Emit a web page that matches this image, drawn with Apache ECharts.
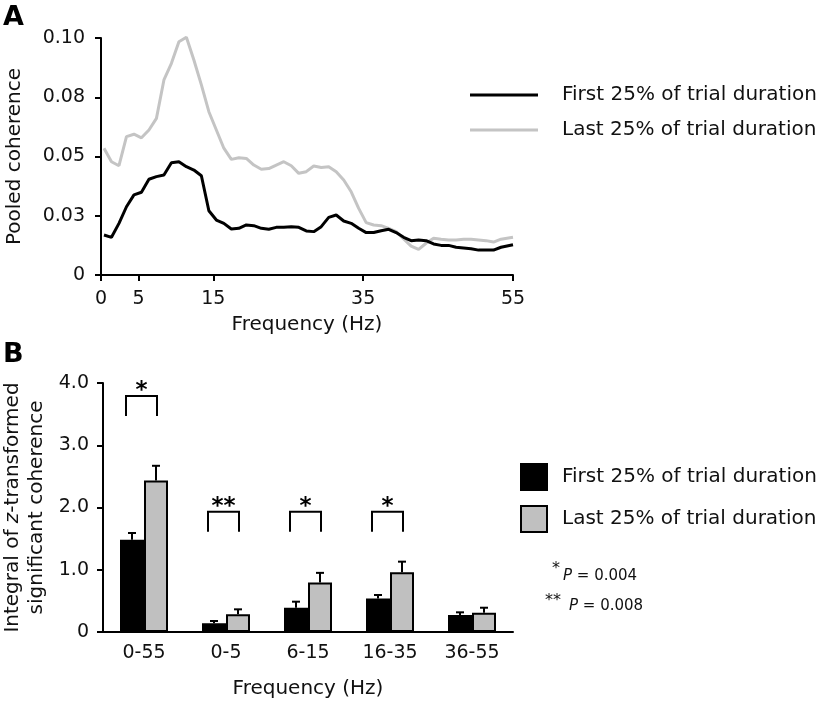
<!DOCTYPE html>
<html>
<head>
<meta charset="utf-8">
<script src="https://cdn.jsdelivr.net/npm/echarts@6/dist/echarts.min.js"></script>
<style>
html,body{margin:0;padding:0;background:#fff;}
#chart{width:827px;height:701px;}
</style>
</head>
<body>
<div id="chart"></div>
<script>
// ---------- Panel A data ----------
const aFreq = [0.4,1.4,2.4,3.4,4.4,5.4,6.4,7.4,8.4,9.4,10.4,11.4,12.4,13.4,14.4,15.4,16.4,17.4,18.4,19.4,
  20.4,21.4,22.4,23.4,24.4,25.4,26.4,27.4,28.4,29.4,30.4,31.4,32.4,33.4,34.4,35.4,36.4,37.4,38.4,39.4,
  40.4,41.4,42.4,43.4,44.4,45.4,46.4,47.4,48.4,49.4,50.4,51.4,52.4,53.4,55.0];
const aFirst = [0.0169,0.0159,0.0218,0.0288,0.0338,0.0349,0.0404,0.0415,0.0422,0.0474,
  0.0478,0.0457,0.0443,0.0419,0.0271,0.0232,0.0218,0.0194,0.0197,0.0211,
  0.0208,0.0197,0.0193,0.0201,0.0201,0.0204,0.0201,0.0186,0.0183,0.0204,
  0.0243,0.0253,0.0228,0.0218,0.0197,0.0179,0.0179,0.0187,0.0193,0.0179,
  0.0159,0.0145,0.0148,0.0145,0.0131,0.0125,0.0125,0.0117,0.0114,0.0111,
  0.0105,0.0105,0.0105,0.0117,0.0128];
const aLast = [0.0535,0.0478,0.0461,0.0584,0.0594,0.0579,0.0612,0.0661,0.0823,0.0893,
  0.0984,0.1003,0.0907,0.0802,0.0689,0.0612,0.0535,0.0488,0.0495,0.0492,
  0.0464,0.0446,0.0449,0.0464,0.0478,0.0461,0.0429,0.0436,0.0460,0.0454,
  0.0457,0.0436,0.0401,0.0351,0.0281,0.0221,0.0211,0.0208,0.0197,0.0183,
  0.0152,0.0122,0.0108,0.0134,0.0155,0.0151,0.0148,0.0148,0.0151,0.0151,
  0.0148,0.0145,0.0139,0.0151,0.0159];
const aXTicks = [0, 5, 15, 35, 55];
const aYTickLabels = ['0', '0.03', '0.05', '0.08', '0.10'];

// ---------- Panel B data ----------
const bCats = ['0-55', '0-5', '6-15', '16-35', '36-55'];
const bFirst = [1.48, 0.14, 0.39, 0.54, 0.273];
const bFirstErr = [0.11, 0.037, 0.097, 0.054, 0.043];
const bLast = [2.435, 0.284, 0.797, 0.958, 0.31];
const bLastErr = [0.235, 0.08, 0.153, 0.172, 0.08];
const bSigCats = [0, 1, 2, 3];
const bSigStars = ['*', '**', '*', '*'];
const bSigTop = [3.79, 1.93, 1.93, 1.93];
const bSigBottom = [3.47, 1.61, 1.61, 1.61];
const bYTicks = [0, 1, 2, 3, 4];

const seriesNames = ['First 25% of trial duration', 'Last 25% of trial duration'];

const FONT = 'DejaVu Sans';
const BAR_W = 24;
const TXT = '#111';

const chart = echarts.init(document.getElementById('chart'), null, {renderer: 'canvas'});

function errRender(sign) {
  return function (params, api) {
    const i = api.value(0), v = api.value(1), e = api.value(2);
    const base = api.coord([i, v]);
    const top = api.coord([i, v + e]);
    const x = base[0] + sign * BAR_W / 2;
    return {
      type: 'group',
      children: [
        {type: 'line', shape: {x1: x, y1: base[1], x2: x, y2: top[1]}, style: {stroke: '#000', lineWidth: 2}},
        {type: 'line', shape: {x1: x - 4, y1: top[1], x2: x + 4, y2: top[1]}, style: {stroke: '#000', lineWidth: 2}}
      ]
    };
  };
}

function sigRender(params, api) {
  const i = api.value(0);
  const t = api.coord([i, api.value(1)]);
  const b = api.coord([i, api.value(2)]);
  const x1 = t[0] - 18, x2 = t[0] + 13;
  return {
    type: 'group',
    children: [
      {type: 'polyline', shape: {points: [[x1, b[1]], [x1, t[1]], [x2, t[1]], [x2, b[1]]]},
        style: {stroke: '#000', lineWidth: 2, fill: null}},
      {type: 'text', style: {text: bSigStars[params.dataIndex], x: (x1 + x2) / 2, y: t[1] - 5,
        align: 'center', verticalAlign: 'middle', font: 'bold 23px "' + FONT + '"', fill: '#000'}}
    ]
  };
}

const axisLineStyle = {lineStyle: {color: '#000', width: 2}};
const tickStyle = {lineStyle: {color: '#000', width: 2}, length: 6, inside: false};

const option = {
  backgroundColor: '#fff',
  animation: false,
  textStyle: {fontFamily: FONT},
  grid: [
    {left: 101, top: 38, width: 412, height: 237},
    {left: 101, top: 383, width: 412, height: 249}
  ],
  xAxis: [
    {
      gridIndex: 0, type: 'value', min: 0, max: 55,
      axisLine: axisLineStyle,
      axisTick: Object.assign({customValues: aXTicks}, tickStyle),
      axisLabel: {customValues: aXTicks, fontSize: 19, color: TXT, fontFamily: FONT, margin: 15},
      splitLine: {show: false},
      name: 'Frequency (Hz)', nameLocation: 'middle', nameGap: 40,
      nameTextStyle: {fontSize: 20, color: TXT, fontFamily: FONT}
    },
    {
      gridIndex: 1, type: 'category', data: bCats, boundaryGap: true,
      axisLine: axisLineStyle,
      axisTick: Object.assign({alignWithLabel: false}, tickStyle),
      axisLabel: {fontSize: 19, color: TXT, fontFamily: FONT, margin: 12},
      name: 'Frequency (Hz)', nameLocation: 'middle', nameGap: 47,
      nameTextStyle: {fontSize: 20, color: TXT, fontFamily: FONT}
    }
  ],
  yAxis: [
    {
      gridIndex: 0, type: 'value', min: 0, max: 0.1, interval: 0.025,
      axisLine: Object.assign({show: true}, axisLineStyle),
      axisTick: Object.assign({show: true}, tickStyle),
      axisLabel: {fontSize: 19, color: TXT, fontFamily: FONT, margin: 16,
        formatter: v => aYTickLabels[Math.round(v / 0.025)]},
      splitLine: {show: false},
      name: 'Pooled coherence', nameLocation: 'middle', nameGap: 76, nameRotate: 90,
      nameTextStyle: {fontSize: 20, color: TXT, fontFamily: FONT}
    },
    {
      gridIndex: 1, type: 'value', min: 0, max: 4, interval: 1,
      axisLine: Object.assign({show: true}, axisLineStyle),
      axisTick: Object.assign({show: true}, tickStyle),
      axisLabel: {fontSize: 19, color: TXT, fontFamily: FONT, margin: 14,
        formatter: v => (bYTicks.indexOf(v) === 0 ? '0' : v.toFixed(1))},
      splitLine: {show: false},
      name: '{n|Integral of }{i|z}{n|-transformed}\n{n|significant coherence}',
      nameLocation: 'middle', nameGap: 54, nameRotate: 90,
      nameTextStyle: {
        fontSize: 20, color: TXT, fontFamily: FONT, lineHeight: 24,
        rich: {
          n: {fontSize: 20, color: TXT, fontFamily: FONT, lineHeight: 24},
          i: {fontSize: 20, color: TXT, fontFamily: FONT, fontStyle: 'italic', lineHeight: 24}
        }
      }
    }
  ],
  legend: [
    {
      orient: 'vertical', left: 465, top: 78, itemWidth: 68, itemHeight: 3, itemGap: 11,
      icon: 'rect', selectedMode: false,
      data: seriesNames.slice(),
      textStyle: {fontSize: 20, color: TXT, fontFamily: FONT, lineHeight: 24, padding: [0, 0, 0, 19]}
    },
    {
      orient: 'vertical', left: 515, top: 458, itemWidth: 26, itemHeight: 26, itemGap: 14,
      icon: 'rect', selectedMode: false,
      data: seriesNames.map(n => 'B: ' + n),
      formatter: n => n.replace('B: ', ''),
      textStyle: {fontSize: 20, color: TXT, fontFamily: FONT, padding: [0, 0, 0, 10]}
    }
  ],
  series: [
    {
      name: seriesNames[0], type: 'line', xAxisIndex: 0, yAxisIndex: 0,
      data: aFreq.map((f, i) => [f, aFirst[i]]),
      symbol: 'none', clip: false, color: '#000',
      lineStyle: {color: '#000', width: 3}, z: 3
    },
    {
      name: seriesNames[1], type: 'line', xAxisIndex: 0, yAxisIndex: 0,
      data: aFreq.map((f, i) => [f, aLast[i]]),
      symbol: 'none', clip: false, color: '#c4c4c4',
      lineStyle: {color: '#c4c4c4', width: 3}, z: 2
    },
    {
      name: 'B: ' + seriesNames[0], type: 'bar', xAxisIndex: 1, yAxisIndex: 1,
      data: bFirst, barWidth: BAR_W, barGap: '0%',
      itemStyle: {color: '#000', borderColor: '#000', borderWidth: 1.5}
    },
    {
      name: 'B: ' + seriesNames[1], type: 'bar', xAxisIndex: 1, yAxisIndex: 1,
      data: bLast, barWidth: BAR_W, barGap: '0%',
      itemStyle: {color: '#c0c0c0', borderColor: '#000', borderWidth: 2}
    },
    {
      type: 'custom', xAxisIndex: 1, yAxisIndex: 1, z: 5,
      data: bCats.map((c, i) => [i, bFirst[i], bFirstErr[i]]),
      renderItem: errRender(-1), encode: {x: 0, y: 1}, silent: true
    },
    {
      type: 'custom', xAxisIndex: 1, yAxisIndex: 1, z: 5,
      data: bCats.map((c, i) => [i, bLast[i], bLastErr[i]]),
      renderItem: errRender(1), encode: {x: 0, y: 1}, silent: true
    },
    {
      type: 'custom', xAxisIndex: 1, yAxisIndex: 1, z: 5,
      data: bSigCats.map((c, k) => [c, bSigTop[k], bSigBottom[k]]),
      renderItem: sigRender, encode: {x: 0, y: 1}, silent: true
    }
  ],
  graphic: [
    {type: 'text', left: 3, top: 4, style: {text: 'A', font: 'bold 27px "' + FONT + '"', fill: '#000'}},
    {type: 'text', left: 3, top: 341, style: {text: 'B', font: 'bold 27px "' + FONT + '"', fill: '#000'}},
    {type: 'text', left: 552, top: 561, style: {text: '*', font: '16px "' + FONT + '"', fill: TXT}},
    {type: 'text', left: 563, top: 569, style: {
      text: '{p|P}{n| = 0.004}',
      rich: {p: {fontStyle: 'italic', fontSize: 15, fontFamily: FONT, fill: TXT},
             n: {fontSize: 15, fontFamily: FONT, fill: TXT}}}},
    {type: 'text', left: 545, top: 593, style: {text: '**', font: '16px "' + FONT + '"', fill: TXT}},
    {type: 'text', left: 569, top: 599, style: {
      text: '{p|P}{n| = 0.008}',
      rich: {p: {fontStyle: 'italic', fontSize: 15, fontFamily: FONT, fill: TXT},
             n: {fontSize: 15, fontFamily: FONT, fill: TXT}}}}
  ]
};
chart.setOption(option);
</script>
</body>
</html>
